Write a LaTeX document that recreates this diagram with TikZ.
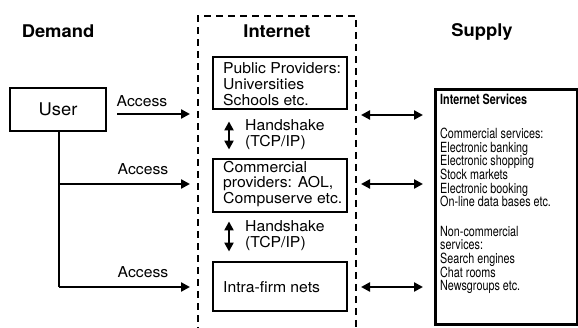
\documentclass[tikz,border=0pt]{standalone}
\usepackage{fontspec}
\setmainfont{TeX Gyre Heros}[FakeStretch=1.05]
\newfontfamily\narrowfont{TeX Gyre Heros}[FakeStretch=0.77]
\usetikzlibrary{arrows.meta}
\begin{document}
\begin{tikzpicture}[x=1pt,y=-1pt,
  box/.style={draw, line width=2.9pt, inner sep=0pt},
  lbl/.style={inner sep=0pt, align=left, font=\fontsize{15}{15.8}\selectfont},
  ttl/.style={inner sep=0pt, font=\fontsize{17.5}{19}\selectfont\bfseries},
  arr/.style={line width=2.5pt, -{Triangle[length=9pt,width=9pt]}},
  darr/.style={line width=2.5pt, {Triangle[length=9pt,width=9pt]}-{Triangle[length=9pt,width=9pt]}},
  netline/.style={line width=1.5pt, dash pattern=on 7pt off 5pt},
]
\useasboundingbox (0,0) rectangle (578,328);

% titles
\node[ttl] (tdemand) at (58,31.5) {Demand};
\node[ttl] (tinternet) at (277,31.5) {Internet};
\node[ttl] (tsupply) at (482,31.5) {Supply};

% dashed internet frame
\draw[netline] (198,334) -- (198,16) -- (356,16) -- (356,334);
\coordinate (netL) at (198,0);
\coordinate (netR) at (356,0);

% user
\node[box, minimum width=96pt, minimum height=43pt, font=\fontsize{17.5}{18}\selectfont] (user) at (58,109.5) {User};

% internet boxes
\node[box, minimum width=134pt, minimum height=52pt] (pub) at (280,83) {};
\node[box, minimum width=134pt, minimum height=53pt] (comm) at (280,185.5) {};
\node[box, minimum width=134pt, minimum height=49pt] (intra) at (280,286.5) {};
\node[lbl, anchor=west] (pubtxt) at (223,84) {Public Providers:\\ Universities\\ Schools etc.};
\node[lbl, anchor=west] (commtxt) at (223,184) {Commercial\\ providers: AOL,\\ Compuserve etc.};
\node[lbl, anchor=west] (intratxt) at (223,287) {Intra-firm nets};

% handshakes
\coordinate (hx) at (229,0);
\draw[darr, shorten <=11pt, shorten >=8pt] (hx |- pub.south) -- (hx |- comm.north);
\draw[darr, shorten <=8pt, shorten >=9pt] (hx |- comm.south) -- (hx |- intra.north);
\node[lbl, anchor=west] (hs1) at (245,135) {Handshake\\ (TCP/IP)};
\node[lbl, anchor=west] (hs2) at (245,236) {Handshake\\ (TCP/IP)};

% supply
\node[box, minimum width=142pt, minimum height=235pt, anchor=north west] (supply) at (434,88) {};
\node[anchor=north west, inner sep=0pt, align=left, font=\narrowfont\fontsize{14}{13.6}\selectfont] (services) at (440,93.5)
 {{\bfseries Internet Services}\\[21pt]
  Commercial services:\\
  Electronic banking\\
  Electronic shopping\\
  Stock markets\\
  Electronic booking\\
  On-line data bases etc.\\[16pt]
  Non-commercial\\
  services:\\
  Search engines\\
  Chat rooms\\
  Newsgroups etc.};

% access arrows
\coordinate (j1) at (59,184);
\coordinate (j2) at (59,287);
\draw[arr, shorten <=10pt, shorten >=8pt] (user.east |- 0,114) -- (netL |- 0,114);
\draw[line width=2.5pt] (j2 |- user.south) -- (j2);
\draw[arr, shorten >=8pt] (j1) -- (netL |- j1);
\draw[arr, shorten >=8pt] (j2) -- (netL |- j2);
\node[lbl] (acc1) at (142,101) {Access};
\node[lbl] (acc2) at (143,169) {Access};
\node[lbl] (acc3) at (143,272) {Access};

% supply arrows
\coordinate (s1) at (0,115);
\coordinate (s2) at (0,184);
\coordinate (s3) at (0,287);
\draw[darr, shorten <=5pt, shorten >=11pt] (netR |- s1) -- (supply.west |- s1);
\draw[darr, shorten <=5pt, shorten >=11pt] (netR |- s2) -- (supply.west |- s2);
\draw[darr, shorten <=5pt, shorten >=11pt] (netR |- s3) -- (supply.west |- s3);
\end{tikzpicture}
\end{document}
